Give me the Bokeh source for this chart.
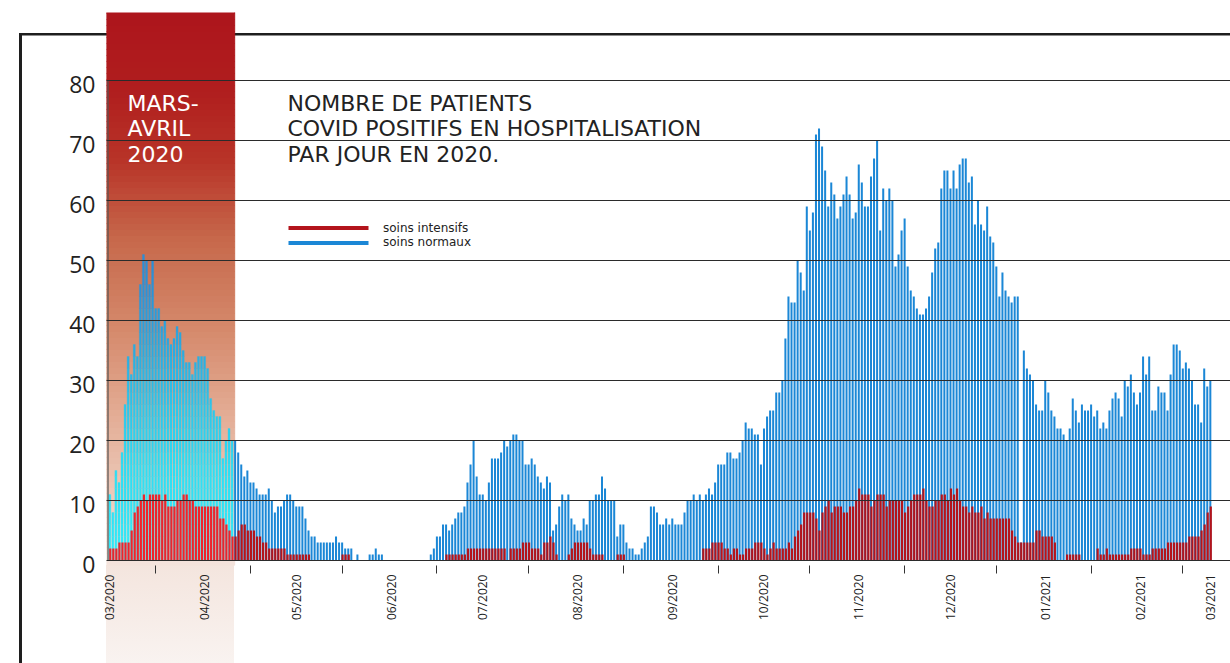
import math
import numpy as np
from bokeh.plotting import figure
from bokeh.models import (Range1d, FixedTicker, Label, Legend, LegendItem,
                          CustomJSTickFormatter)
from bokeh.embed import file_html
from bokeh.resources import INLINE

# ---------------- data (one bar per day, from 1 March 2020) ----------------
soins_normaux = [
    11, 8, 15, 13, 18, 26, 34, 31, 36, 34,
    46, 51, 50, 46, 50, 42, 42, 39, 40, 37,
    36, 37, 39, 38, 35, 33, 33, 31, 33, 34,
    34, 34, 32, 27, 25, 24, 24, 17, 20, 22,
    20, 20, 18, 16, 14, 15, 13, 13, 12, 11,
    11, 11, 12, 10, 8, 9, 9, 10, 11, 11,
    10, 9, 9, 9, 7, 5, 4, 4, 3, 3,
    3, 3, 3, 3, 4, 3, 3, 2, 2, 2,
    0, 1, 0, 0, 0, 1, 1, 2, 1, 1,
    0, 0, 0, 0, 0, 0, 0, 0, 0, 0,
    0, 0, 0, 0, 0, 1, 2, 4, 4, 6,
    6, 5, 6, 7, 8, 8, 9, 13, 16, 20,
    14, 11, 11, 10, 13, 17, 17, 17, 18, 20,
    19, 20, 21, 21, 20, 20, 16, 16, 17, 16,
    14, 13, 12, 14, 13, 5, 6, 9, 11, 10,
    11, 7, 6, 5, 5, 7, 6, 10, 10, 11,
    11, 14, 12, 10, 10, 10, 4, 6, 6, 3,
    2, 2, 1, 1, 2, 3, 4, 9, 9, 8,
    6, 6, 7, 6, 7, 6, 6, 6, 8, 10,
    10, 11, 10, 11, 10, 11, 12, 11, 13, 16,
    16, 16, 18, 18, 17, 17, 18, 20, 23, 22,
    22, 21, 21, 16, 22, 24, 25, 25, 28, 28,
    30, 37, 44, 43, 43, 50, 48, 45, 59, 55,
    58, 71, 72, 69, 65, 59, 63, 61, 57, 59,
    61, 64, 61, 57, 58, 66, 63, 59, 59, 64,
    67, 70, 55, 62, 60, 62, 60, 49, 51, 55,
    57, 49, 45, 44, 42, 41, 41, 42, 44, 48,
    52, 53, 62, 65, 65, 62, 65, 62, 66, 67,
    67, 63, 64, 56, 60, 56, 55, 59, 54, 53,
    49, 44, 48, 45, 44, 43, 44, 44, 3, 35,
    32, 31, 30, 26, 25, 25, 30, 28, 25, 24,
    22, 22, 21, 20, 22, 27, 25, 23, 26, 25,
    25, 26, 24, 25, 22, 23, 22, 25, 27, 28,
    27, 24, 30, 29, 31, 28, 26, 28, 34, 31,
    34, 25, 25, 29, 28, 28, 25, 31, 36, 36,
    35, 32, 33, 32, 30, 26, 26, 23, 32, 29,
    30,
]
soins_intensifs = [
    2, 2, 2, 3, 3, 3, 3, 5, 8, 9,
    10, 11, 10, 11, 11, 11, 11, 10, 11, 9,
    9, 9, 10, 10, 11, 11, 10, 10, 9, 9,
    9, 9, 9, 9, 9, 9, 7, 7, 6, 5,
    4, 4, 5, 6, 6, 5, 5, 5, 4, 4,
    3, 3, 2, 2, 2, 2, 2, 2, 1, 1,
    1, 1, 1, 1, 1, 1, 0, 0, 0, 0,
    0, 0, 0, 0, 0, 0, 1, 1, 1, 0,
    0, 0, 0, 0, 0, 0, 0, 0, 0, 0,
    0, 0, 0, 0, 0, 0, 0, 0, 0, 0,
    0, 0, 0, 0, 0, 0, 0, 0, 0, 0,
    1, 1, 1, 1, 1, 1, 1, 2, 2, 2,
    2, 2, 2, 2, 2, 2, 2, 2, 2, 2,
    0, 2, 2, 2, 2, 3, 3, 3, 2, 2,
    2, 1, 3, 3, 4, 3, 1, 0, 0, 0,
    1, 2, 3, 3, 3, 3, 3, 2, 1, 1,
    1, 1, 0, 0, 0, 0, 1, 1, 1, 0,
    0, 0, 0, 0, 0, 0, 0, 0, 0, 0,
    0, 0, 0, 0, 0, 0, 0, 0, 0, 0,
    0, 0, 0, 0, 2, 2, 2, 3, 3, 3,
    3, 2, 2, 1, 2, 2, 1, 1, 2, 2,
    2, 3, 3, 3, 2, 1, 2, 3, 2, 2,
    2, 2, 3, 2, 4, 5, 6, 8, 8, 8,
    8, 7, 5, 8, 9, 10, 8, 9, 9, 9,
    8, 8, 9, 9, 10, 12, 11, 11, 11, 9,
    10, 11, 11, 11, 9, 10, 10, 10, 10, 10,
    8, 9, 10, 11, 11, 11, 12, 10, 9, 9,
    10, 10, 11, 11, 10, 12, 11, 12, 10, 9,
    9, 8, 9, 8, 8, 9, 7, 8, 7, 7,
    7, 7, 7, 7, 7, 5, 4, 3, 3, 3,
    3, 3, 3, 5, 5, 4, 4, 4, 4, 3,
    0, 0, 0, 1, 1, 1, 1, 1, 0, 0,
    0, 0, 0, 2, 1, 1, 2, 1, 1, 1,
    1, 1, 1, 1, 2, 2, 2, 2, 1, 1,
    1, 2, 2, 2, 2, 2, 3, 3, 3, 3,
    3, 3, 3, 4, 4, 4, 4, 5, 6, 8,
    9,
]
month_tick_days = [0, 31, 61, 92, 122, 153, 184, 214, 245, 275, 306, 337, 360]
month_tick_labels = ["03/2020", "04/2020", "05/2020", "06/2020", "07/2020", "08/2020",
                     "09/2020", "10/2020", "11/2020", "12/2020", "01/2021", "02/2021", "03/2021"]
mid_month_days = [15, 46, 76, 107, 137, 168, 199, 229, 260, 290, 321, 351]
y_ticks = [0, 10, 20, 30, 40, 50, 60, 70, 80]
highlight_days = 41  # mars-avril block (first 41 days)
title_lines = ["NOMBRE DE PATIENTS", "COVID POSITIFS EN HOSPITALISATION", "PAR JOUR EN 2020."]
highlight_lines = ["MARS-", "AVRIL", "2020"]
legend_labels = ["soins intensifs", "soins normaux"]

# ---------------- style ----------------
BLUE = "#1b87d6"
RED = "#b3141c"
RED_HL = "#ef232b"
INK = "#222222"
W, H = 1230, 663
FRAME_LEFT, FRAME_TOP, FRAME_BOTTOM = 106, 12, 565
ZERO_Y = 560
PX_PER_DAY, PX_PER_UNIT = 3.057, 6.0

X0 = -1.08
X1 = X0 + (W - FRAME_LEFT) / PX_PER_DAY
Y0 = -(FRAME_BOTTOM - ZERO_Y) / PX_PER_UNIT
Y1 = (ZERO_Y - FRAME_TOP) / PX_PER_UNIT

p = figure(width=W, height=H, output_backend="svg", toolbar_location=None,
           x_range=Range1d(X0, X1), y_range=Range1d(Y0, Y1),
           min_border_left=FRAME_LEFT, min_border_right=0, min_border_top=FRAME_TOP,
           min_border_bottom=H - FRAME_BOTTOM)
p.outline_line_color = None
p.background_fill_color = None
p.border_fill_color = None
# outer frame lines (left / top) and the light foot of the "mars-avril" block
p.styles = {
    "background": (
        "linear-gradient(#1e1e1e, #1e1e1e) 19px 33px / 3px 640px no-repeat, "
        "linear-gradient(#1e1e1e, #1e1e1e) 19px 33px / 1220px 2.5px no-repeat, "
        "linear-gradient(rgb(244,229,222), rgb(249,243,240)) 106px %dpx / 128px %dpx no-repeat, "
        "white" % (FRAME_BOTTOM, H - FRAME_BOTTOM)
    )
}


def lerp_color(stops, v):
    stops = sorted(stops, key=lambda s: s[0])
    if v <= stops[0][0]:
        c = stops[0][1]
    elif v >= stops[-1][0]:
        c = stops[-1][1]
    else:
        for (a, ca), (b, cb) in zip(stops[:-1], stops[1:]):
            if a <= v <= b:
                t = (v - a) / (b - a)
                c = tuple(ca[i] + (cb[i] - ca[i]) * t for i in range(3))
                break
    return "#%02x%02x%02x" % tuple(int(round(x)) for x in c)


def px_x(page_x):
    return X0 + (page_x - FRAME_LEFT) / PX_PER_DAY


def px_y(page_y):
    return (ZERO_Y - page_y) / PX_PER_UNIT


# background gradient block "MARS-AVRIL"
rect_stops = [(91.4, (173, 21, 28)), (78.3, (176, 30, 30)), (66.7, (184, 52, 40)),
              (53.3, (199, 105, 76)), (38.3, (213, 138, 108)), (23.3, (228, 175, 152)),
              (10.0, (237, 204, 189)), (-1.0, (244, 229, 222))]
step = 1.0
ys = np.arange(Y0, Y1, step)
rect_cols = [lerp_color(rect_stops, y + step / 2) for y in ys]
p.quad(left=X0, right=highlight_days - 1 + 0.85, bottom=ys, top=ys + step,
       fill_color=rect_cols, line_color=rect_cols, line_width=1, level="image")

days = np.arange(len(soins_normaux))
normaux = np.array(soins_normaux, dtype=float)
intens = np.array(soins_intensifs, dtype=float)
main = days >= highlight_days

# normal period bars
r_blue = p.vbar(x=days[main], top=normaux[main], width=0.66, fill_color=BLUE, line_color=None)
r_red = p.vbar(x=days[main] + 0.15, top=intens[main], width=0.72, fill_color=RED, line_color=None)

# highlighted period: cyan gradient bars
bar_stops = [(0, (50, 234, 248)), (15, (46, 222, 244)), (25, (44, 200, 236)),
             (35, (42, 172, 226)), (45, (42, 148, 218)), (55, (42, 138, 214))]
bx, bb, bt, bc = [], [], [], []
band = 2.0
for d in days[~main]:
    v = normaux[d]
    k = 0.0
    while k < v:
        bx.append(int(d))
        bb.append(k)
        bt.append(min(v, k + band))
        bc.append(lerp_color(bar_stops, k + band / 2))
        k += band
p.vbar(x=bx, bottom=bb, top=bt, width=0.66, fill_color=bc, line_color=bc, line_width=0.3)
p.vbar(x=days[~main] + 0.15, top=intens[~main], width=0.72, fill_color=RED_HL, line_color=None)

# vertical axis line (0..80)
p.segment(x0=[px_x(107.5)], y0=[0], x1=[px_x(107.5)], y1=[max(y_ticks)],
          line_color="#555555", line_width=1.2)

# grid
p.xgrid.visible = False
p.ygrid.ticker = FixedTicker(ticks=y_ticks)
p.ygrid.grid_line_color = "#2b2b2b"
p.ygrid.grid_line_width = 1.2
p.ygrid.level = "guide"

# y axis : labels set slightly below their grid line, as in the original
LABEL_DROP = 0.7
p.yaxis.ticker = FixedTicker(ticks=[t - LABEL_DROP for t in y_ticks])
p.yaxis.formatter = CustomJSTickFormatter(code="return Math.round(tick + %s).toString()" % LABEL_DROP)
p.yaxis.axis_line_color = None
p.yaxis.major_tick_line_color = None
p.yaxis.minor_tick_line_color = None
p.yaxis.major_tick_out = 0
p.yaxis.major_label_standoff = 11
p.yaxis.major_label_text_font = "Open Sans"
p.yaxis.major_label_text_font_size = "23px"
p.yaxis.major_label_text_color = INK

p.xaxis.ticker = FixedTicker(ticks=month_tick_days, minor_ticks=mid_month_days)
p.xaxis.major_label_overrides = {d: lab for d, lab in zip(month_tick_days, month_tick_labels)}
p.xaxis.major_label_orientation = math.pi / 2
p.xaxis.axis_line_color = None
p.xaxis.major_tick_line_color = None
p.xaxis.major_tick_out = 0
p.xaxis.major_tick_in = 0
p.xaxis.minor_tick_line_color = "#333333"
p.xaxis.minor_tick_line_width = 1
p.xaxis.minor_tick_in = 0
p.xaxis.minor_tick_out = 8
p.xaxis.major_label_standoff = 1
p.xaxis.major_label_text_font = "Open Sans"
p.xaxis.major_label_text_font_size = "12px"
p.xaxis.major_label_text_color = INK

# texts (baseline correction for the renderer: ~0.375 em)
TXT = 22
for i, line in enumerate(highlight_lines):
    p.add_layout(Label(x=px_x(127), y=px_y(111 + 25.5 * i - 0.375 * TXT), text=line, text_color="white",
                       text_font="DejaVu Sans", text_font_size="%dpx" % TXT, text_baseline="alphabetic"))
for i, line in enumerate(title_lines):
    p.add_layout(Label(x=px_x(287), y=px_y(111 + 25.5 * i - 0.375 * TXT), text=line, text_color=INK,
                       text_font="DejaVu Sans", text_font_size="%dpx" % TXT, text_baseline="alphabetic"))

# legend: one row per item
for label, rend, centre in [(legend_labels[0], r_red, 227.5), (legend_labels[1], r_blue, 242.0)]:
    lg = Legend(items=[LegendItem(label=label, renderers=[rend])],
                location=(288 - 10 - FRAME_LEFT, FRAME_BOTTOM - (centre + 9)),
                orientation="vertical", background_fill_alpha=0, border_line_color=None,
                padding=0, margin=0, spacing=0,
                glyph_width=100, glyph_height=5, label_standoff=5, label_height=18,
                label_text_font="DejaVu Sans", label_text_font_size="12px", label_text_color=INK)
    p.add_layout(lg)

open("out.html", "w").write(file_html(p, INLINE))
